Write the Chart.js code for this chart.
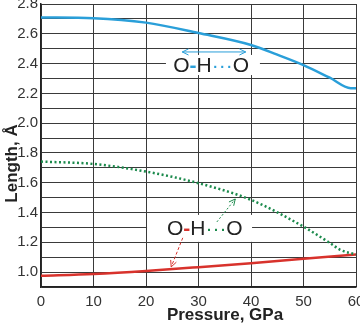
<!DOCTYPE html>
<html>
<head>
<meta charset="utf-8">
<script src="https://cdn.jsdelivr.net/npm/chart.js@4/dist/chart.umd.min.js"></script>
<style>
  html, body { margin: 0; padding: 0; background: #fff; }
  #wrap { width: 360px; height: 323px; }
</style>
</head>
<body>
<div id="wrap"><canvas id="myChart"></canvas></div>
<script>
// data (pressure in GPa, length in angstrom)
const pressureOO = [0, 10, 20, 30, 40, 45, 50, 55, 59, 60];
const lengthOO = [2.71, 2.705, 2.675, 2.605, 2.525, 2.46, 2.39, 2.305, 2.235, 2.235];
const pressureOHO = [0, 10, 20, 30, 40, 50, 55, 57, 60];
const lengthOHO = [1.742, 1.726, 1.675, 1.597, 1.485, 1.305, 1.196, 1.15, 1.118];
const pressureOH = [0, 10, 20, 30, 40, 50, 60];
const lengthOH = [0.975, 0.988, 1.008, 1.033, 1.06, 1.089, 1.118];
const xTicks = [0, 10, 20, 30, 40, 50, 60];
const xTitle = 'Pressure, GPa';
const yTitle = 'Length, Å';

const toPoints = (xs, ys) => xs.map((x, i) => ({ x: x, y: ys[i] }));

const blue = '#2a9fd9';
const red = '#d8322c';
const green = '#1b8a4c';
const ink = '#222';

// labels and arrows drawn on top of the grid, placed in data units
const annotations = {
    top: { box: [23.8, 41.7, 2.458, 2.323], text: [32.4, 2.384], dash: blue, dots: blue,
           arrow: { from: [26.9, 2.478], to: [39.0, 2.478], both: true, color: blue, dash: [] } },
    bottom: { box: [20.2, 40.2, 1.384, 1.203], text: [31.2, 1.29], dash: red, dots: green }
};

const labelPlugin = {
    id: 'labels',
    beforeDatasetsDraw(chart) {
        const c = chart.ctx, xs = chart.scales.x, ys = chart.scales.y;
        const X = v => xs.getPixelForValue(v), Y = v => ys.getPixelForValue(v);

        function arrowHead(x1, y1, x2, y2, color) {
            const a = Math.atan2(y2 - y1, x2 - x1), L = 7;
            c.save();
            c.setLineDash([]);
            c.strokeStyle = color;
            c.lineWidth = 1;
            c.beginPath();
            c.moveTo(x2 - L * Math.cos(a - 0.45), y2 - L * Math.sin(a - 0.45));
            c.lineTo(x2, y2);
            c.lineTo(x2 - L * Math.cos(a + 0.45), y2 - L * Math.sin(a + 0.45));
            c.stroke();
            c.restore();
        }
        function arrow(from, to, color, dash, both) {
            const x1 = X(from[0]), y1 = Y(from[1]), x2 = X(to[0]), y2 = Y(to[1]);
            c.save();
            c.strokeStyle = color;
            c.lineWidth = 1;
            c.setLineDash(dash);
            c.beginPath();
            c.moveTo(x1, y1);
            c.lineTo(x2, y2);
            c.stroke();
            c.restore();
            arrowHead(x1, y1, x2, y2, color);
            if (both) arrowHead(x2, y2, x1, y1, color);
        }
        function label(cfg) {
            const b = cfg.box;
            c.save();
            c.fillStyle = '#fff';
            c.fillRect(X(b[0]), Y(b[2]), X(b[1]) - X(b[0]), Y(b[3]) - Y(b[2]));
            c.font = '21px "Liberation Sans", Arial, sans-serif';
            c.textBaseline = 'middle';
            const parts = [['O', ink], ['-', cfg.dash], ['H', ink], ['···', cfg.dots], ['O', ink]];
            const w = parts.reduce((s, p) => s + c.measureText(p[0]).width, 0);
            let x = X(cfg.text[0]) - w / 2;
            const y = Y(cfg.text[1]);
            parts.forEach(p => {
                c.fillStyle = p[1];
                if (p[0] === '-') {
                    c.font = 'bold 21px "Liberation Sans", Arial, sans-serif';
                } else {
                    c.font = '21px "Liberation Sans", Arial, sans-serif';
                }
                c.fillText(p[0], x, y);
                x += c.measureText(p[0]).width;
            });
            c.restore();
        }

        label(annotations.top);
        label(annotations.bottom);
        const t = annotations.top.arrow;
        arrow(t.from, t.to, t.color, t.dash, t.both);
        arrow([27.0, 1.23], [24.8, 1.035], red, [3, 2], false);
        arrow([33.5, 1.337], [37.0, 1.491], green, [2, 2], false);
    },
    afterDraw(chart) {
        const c = chart.ctx, a = chart.chartArea;
        c.save();
        c.fillStyle = ink;
        c.font = 'bold 17px "Liberation Sans", Arial, sans-serif';
        c.textAlign = 'center';
        c.textBaseline = 'alphabetic';
        c.fillText(xTitle, 225, 320);
        c.translate(17, (a.top + a.bottom) / 2 + 18);
        c.rotate(-Math.PI / 2);
        c.fillText(yTitle, 0, 0);
        c.restore();
    }
};

const ctx = document.getElementById('myChart').getContext('2d');
const myChart = new Chart(ctx, {
    type: 'line',
    data: {
        datasets: [{
            label: 'O···O',
            data: toPoints(pressureOO, lengthOO),
            borderColor: blue,
            borderWidth: 2.5,
            pointRadius: 0,
            cubicInterpolationMode: 'monotone'
        }, {
            label: 'H···O',
            data: toPoints(pressureOHO, lengthOHO),
            borderColor: green,
            borderWidth: 2.5,
            borderDash: [2, 2.5],
            pointRadius: 0,
            cubicInterpolationMode: 'monotone'
        }, {
            label: 'O-H',
            data: toPoints(pressureOH, lengthOH),
            borderColor: red,
            borderWidth: 2.5,
            pointRadius: 0,
            cubicInterpolationMode: 'monotone'
        }]
    },
    options: {
        responsive: true,
        maintainAspectRatio: false,
        animation: false,
        layout: { padding: { top: 4, right: 4, left: 0, bottom: 0 } },
        plugins: {
            legend: { display: false },
            tooltip: { enabled: false }
        },
        scales: {
            x: {
                type: 'linear',
                min: 0,
                max: 60,
                afterBuildTicks: s => { s.ticks = xTicks.map(v => ({ value: v })); },
                afterFit: s => { s.height = 36; s.paddingLeft = 0; s.paddingRight = 0; },
                grid: { color: '#3a3a3a', lineWidth: 1, drawTicks: false },
                border: { color: '#222', width: 1.5 },
                ticks: {
                    padding: 6,
                    color: '#333',
                    maxRotation: 0,
                    font: { family: '"Liberation Sans", Arial, sans-serif', size: 15 }
                }
            },
            y: {
                min: 0.9,
                max: 2.8,
                afterFit: s => { s.width = 41; s.paddingTop = 0; s.paddingBottom = 0; },
                grid: { color: '#3a3a3a', lineWidth: 1, drawTicks: false },
                border: { color: '#222', width: 1.5 },
                ticks: {
                    stepSize: 0.1,
                    padding: 3,
                    color: '#333',
                    autoSkip: false,
                    font: { family: '"Liberation Sans", Arial, sans-serif', size: 15 },
                    callback: v => Math.round(v * 10) % 2 === 0 ? v.toFixed(1) : ''
                }
            }
        }
    },
    plugins: [labelPlugin]
});
</script>
</body>
</html>
